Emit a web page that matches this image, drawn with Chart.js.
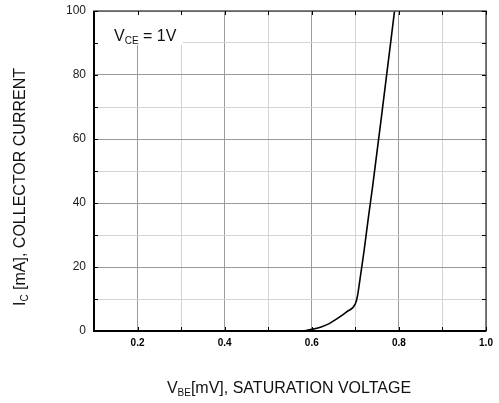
<!DOCTYPE html>
<html><head><meta charset="utf-8">
<script src="https://cdn.jsdelivr.net/npm/chart.js@4/dist/chart.umd.min.js"></script>
<style>html,body{margin:0;padding:0;background:#fff}</style>
</head><body>
<canvas id="c" width="499" height="403"></canvas>
<script>
// Data
const vbe = [0.58, 0.60, 0.62, 0.64, 0.66, 0.68, 0.70, 0.705, 0.71, 0.72, 0.73, 0.74, 0.76, 0.79];
const ic  = [0,    0.5,  1.2,  2.3,  4.0,  6.0,  8.5,  11,    15.5, 25,   35.5, 45.5, 67,   100];
const xTickLabels = [0.2, 0.4, 0.6, 0.8, 1.0];
const yTickLabels = [0, 20, 40, 60, 80, 100];
const xTitleMain = ['V', 'BE', '[mV], SATURATION VOLTAGE'];
const yTitleMain = ['I', 'C', ' [mA], COLLECTOR CURRENT'];
const noteText = ['V', 'CE', ' = 1V'];

const FONT = '"Liberation Sans", Arial, sans-serif';
const isX = v => xTickLabels.some(t => Math.abs(t - v) < 1e-6);
const isY = v => yTickLabels.some(t => Math.abs(t - v) < 1e-6);

function drawSub(ctx, parts, x, y, size, subSize, align) {
  ctx.font = size + 'px ' + FONT;
  const w0 = ctx.measureText(parts[0]).width;
  const w2 = ctx.measureText(parts[2]).width;
  ctx.font = subSize + 'px ' + FONT;
  const w1 = ctx.measureText(parts[1]).width;
  const total = w0 + w1 + w2;
  let sx = align === 'center' ? x - total / 2 : x;
  ctx.textAlign = 'left';
  ctx.textBaseline = 'alphabetic';
  ctx.font = size + 'px ' + FONT;
  ctx.fillText(parts[0], sx, y);
  ctx.font = subSize + 'px ' + FONT;
  ctx.fillText(parts[1], sx + w0, y + 3);
  ctx.font = size + 'px ' + FONT;
  ctx.fillText(parts[2], sx + w0 + w1, y);
}

const decor = {
  id: 'decor',
  beforeDatasetsDraw(chart) {
    const ctx = chart.ctx;
    const a = chart.chartArea;
    ctx.save();
    ctx.fillStyle = '#fff';
    ctx.fillRect(a.left + 1, a.top + 1, 88, 33);
    ctx.fillStyle = '#111';
    drawSub(ctx, noteText, a.left + 20, a.top + 30, 16, 10, 'left');
    ctx.restore();
  },
  afterDraw(chart) {
    const ctx = chart.ctx;
    const a = chart.chartArea;
    const xs = chart.scales.x, ys = chart.scales.y;
    ctx.save();
    ctx.strokeStyle = '#555';
    ctx.lineWidth = 1.5;
    ctx.strokeRect(a.left, a.top, a.right - a.left, a.bottom - a.top);
    ctx.strokeStyle = '#000';
    ctx.lineWidth = 2;
    ctx.beginPath();
    ctx.moveTo(a.left, a.top); ctx.lineTo(a.left, a.bottom); ctx.lineTo(a.right, a.bottom);
    ctx.stroke();
    ctx.lineWidth = 1;
    ctx.strokeStyle = '#000';
    ctx.beginPath();
    xs.ticks.forEach(t => {
      const px = Math.round(xs.getPixelForValue(t.value)) + 0.5;
      ctx.moveTo(px, a.bottom); ctx.lineTo(px, a.bottom - 4);
      ctx.moveTo(px, a.top); ctx.lineTo(px, a.top + 4);
    });
    ys.ticks.forEach(t => {
      const py = Math.round(ys.getPixelForValue(t.value)) + 0.5;
      ctx.moveTo(a.left, py); ctx.lineTo(a.left + 4, py);
      ctx.moveTo(a.right, py); ctx.lineTo(a.right - 4, py);
    });
    ctx.stroke();
    ctx.fillStyle = '#111';
    drawSub(ctx, xTitleMain, 289, 393, 16, 10, 'center');
    ctx.translate(25, 187);
    ctx.rotate(-Math.PI / 2);
    drawSub(ctx, yTitleMain, 0, 0, 16, 10, 'center');
    ctx.restore();
  }
};

new Chart(document.getElementById('c'), {
  type: 'scatter',
  data: {
    datasets: [{
      data: vbe.map((v, i) => ({ x: v, y: ic[i] })),
      showLine: true,
      borderColor: '#000',
      borderWidth: 1.6,
      pointRadius: 0,
      cubicInterpolationMode: 'monotone',
      fill: false
    }]
  },
  options: {
    responsive: false,
    animation: false,
    layout: { padding: { top: 11, right: 13, left: 0, bottom: 0 } },
    plugins: { legend: { display: false }, tooltip: { enabled: false } },
    scales: {
      x: {
        type: 'linear', min: 0.1, max: 1.0,
        afterFit: s => { s.height = 72; s.paddingLeft = 0; s.paddingRight = 0; },
        border: { display: false },
        grid: {
          drawTicks: false,
          color: c => isX(c.tick.value) ? '#9a9a9a' : '#d4d4d4',
          lineWidth: 1
        },
        ticks: {
          stepSize: 0.1, padding: 6, color: '#000',
          font: { family: FONT, size: 10, weight: 'bold' },
          callback: v => isX(v) ? v.toFixed(1) : ''
        }
      },
      y: {
        type: 'linear', min: 0, max: 100,
        afterFit: s => { s.width = 94; s.paddingTop = 0; s.paddingBottom = 0; },
        border: { display: false },
        grid: {
          drawTicks: false,
          color: c => isY(c.tick.value) ? '#9a9a9a' : '#d4d4d4',
          lineWidth: 1
        },
        ticks: {
          stepSize: 10, padding: 8, color: '#222',
          font: { family: FONT, size: 12 },
          callback: v => isY(v) ? String(v) : ''
        }
      }
    }
  },
  plugins: [decor]
});
</script>
</body></html>
